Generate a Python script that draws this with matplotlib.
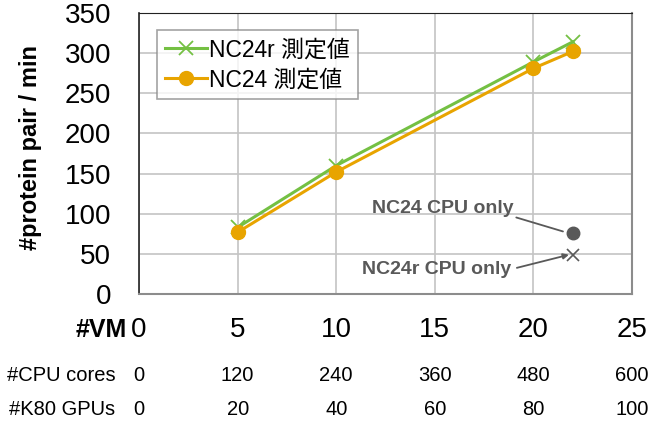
import matplotlib
matplotlib.use('Agg')
import matplotlib.pyplot as plt

plt.rcParams['font.family'] = ['Liberation Sans', 'Noto Sans CJK JP', 'DejaVu Sans']

# data
vm = [5, 10, 20, 22]
nc24r = [83, 160, 289, 314]
nc24 = [77, 152, 281, 302]
cpu_only_vm = 22
nc24_cpu_only = 76
nc24r_cpu_only = 49

x_ticks = [0, 5, 10, 15, 20, 25]
cpu_cores = ['0', '120', '240', '360', '480', '600']
k80_gpus = ['0', '20', '40', '60', '80', '100']
y_ticks = [0, 50, 100, 150, 200, 250, 300, 350]

green = '#74c043'
orange = '#e8a400'
gray = '#595959'

fig = plt.figure(figsize=(6.59, 4.30), dpi=100)
ax = fig.add_axes([0.211, 0.316, 0.748, 0.654])

ax.plot(vm, nc24r, color=green, linewidth=2.2, marker='x', markersize=10,
        markeredgewidth=1.3, label='NC24r 測定値', zorder=3)
ax.plot(vm, nc24, color=orange, linewidth=2.2, marker='o', markersize=10,
        label='NC24 測定値', zorder=4)

ax.plot([cpu_only_vm], [nc24_cpu_only], marker='o', color=gray, markersize=9,
        linestyle='none', zorder=5)
ax.plot([cpu_only_vm], [nc24r_cpu_only], marker='x', color=gray, markersize=8,
        markeredgewidth=1.2, linestyle='none', zorder=5)

ax.annotate('NC24 CPU only', xy=(cpu_only_vm - 0.5, nc24_cpu_only + 2),
            xytext=(15.4, 107), ha='center', va='center',
            fontsize=14, fontweight='bold', color=gray,
            arrowprops=dict(arrowstyle='-', color=gray, lw=1.3,
                            shrinkA=0, shrinkB=0,
                            relpos=(1.0, 0.0)))
ax.annotate('NC24r CPU only', xy=(cpu_only_vm - 0.2, nc24r_cpu_only),
            xytext=(15.1, 31), ha='center', va='center',
            fontsize=14, fontweight='bold', color=gray,
            arrowprops=dict(arrowstyle='-|>', color=gray, lw=1.3,
                            mutation_scale=8, shrinkA=2, shrinkB=0,
                            relpos=(1.0, 0.5)))

ax.set_xlim(0, 25)
ax.set_ylim(0, 350)
ax.set_xticks(x_ticks)
ax.set_yticks(y_ticks)
ax.set_xticklabels([])
ax.tick_params(axis='y', labelsize=20, length=0, pad=20)
ax.tick_params(axis='x', length=0)
ax.grid(True, color='#c4c4c4', linewidth=1.2)
ax.set_axisbelow(True)

for side in ['left', 'top']:
    ax.spines[side].set_color('#222222')
ax.spines['left'].set_linewidth(1.2)
for side in ['right', 'bottom']:
    ax.spines[side].set_color('#8c8c8c')
    ax.spines[side].set_linewidth(1.5)

ax.set_ylabel('#protein pair / min', fontsize=17, fontweight='bold')
ax.yaxis.set_label_coords(-0.197, 0.52)

# three rows of x labels under the axes
trans = ax.get_xaxis_transform()
for x, c, g in zip(x_ticks, cpu_cores, k80_gpus):
    ax.text(x, -0.128, str(x), transform=trans, ha='center', va='center',
            fontsize=20, clip_on=False)
    ax.text(x, -0.29, c, transform=trans, ha='center', va='center',
            fontsize=14.5, clip_on=False)
    ax.text(x, -0.41, g, transform=trans, ha='center', va='center',
            fontsize=14.5, clip_on=False)

ax.text(-0.6, -0.128, '#VM', transform=trans, ha='right', va='center',
        fontsize=18, fontweight='bold', clip_on=False)
ax.text(-1.2, -0.29, '#CPU cores', transform=trans, ha='right', va='center',
        fontsize=14.5, clip_on=False)
ax.text(-1.2, -0.41, '#K80 GPUs', transform=trans, ha='right', va='center',
        fontsize=14.5, clip_on=False)

leg = ax.legend(loc='upper left', bbox_to_anchor=(0.037, 0.938), fontsize=16.5,
                frameon=True, fancybox=False, edgecolor='#8c8c8c',
                handlelength=1.8, handletextpad=0.1, borderpad=0.35,
                labelspacing=0.3, borderaxespad=0)
leg.get_frame().set_linewidth(1.2)

fig.savefig('out.png', dpi=100)
